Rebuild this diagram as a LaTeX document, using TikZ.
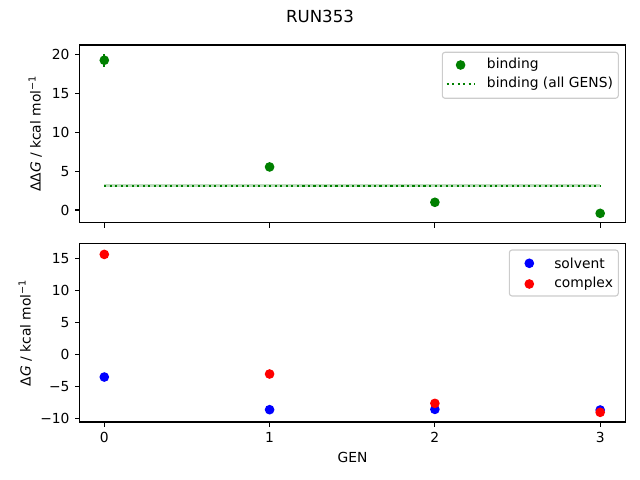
\documentclass[tikz,border=0pt]{standalone}
\usepackage{fontspec}
\setmainfont{DejaVu Sans}
\usepackage{xcolor}
\usetikzlibrary{positioning,calc}
\definecolor{mplgreen}{RGB}{0,128,0}
\definecolor{mplblue}{RGB}{0,0,255}
\definecolor{mplred}{RGB}{255,0,0}
\definecolor{bandgreen}{RGB}{190,222,190}
\begin{document}
\begin{tikzpicture}[
    x=0.01in, y=-0.01in,
    frame/.style={line width=0.8pt},
    tickmark/.style={line width=0.8pt},
    ticklbl/.style={inner sep=0pt, font=\fontsize{10}{12}\selectfont},
    dot/.style={circle, inner sep=0pt, minimum size=7pt, fill=#1},
    legbox/.style={draw=black!20, line width=0.8pt, rounded corners=2pt, fill=white},
    dotline/.style={mplgreen, line width=1.5pt, dash pattern=on 1.5pt off 2.475pt}
]
    \useasboundingbox (0,0) rectangle (640,480);

    % Title
    \node[font=\fontsize{12}{14}\selectfont] (title) at (320,16.7) {RUN353};

    % Top panel
    \begin{scope}[shift={(104.3,210)}, x=1.652in, y=0.0778in]
        \fill[bandgreen] (0,2.92) rectangle (3,3.32);
        \draw[dotline] (0,3.12) -- (3,3.12);
        \draw[mplgreen, line width=1.5pt] (0,18.4) -- (0,20.1);
        \foreach \x/\val in {0/19.24, 1/5.53, 2/0.99, 3/-0.43} {
            \node[dot=mplgreen] (b\x) at (\x,\val) {};
        }
        \foreach \x in {0,1,2,3} {
            \draw[tickmark] (\x,-1.63) -- ++(0,-3.5pt);
        }
        \foreach \y in {0,5,10,15,20} {
            \draw[tickmark] (-0.15,\y) -- ++(-3.5pt,0);
            \node[ticklbl, anchor=east] (ta\y) at ([xshift=-7pt]-0.15,\y) {\y};
        }
    \end{scope}
    \draw[frame] (79.5,45) rectangle (625.5,222.7);
    \node[rotate=90, font=\fontsize{10}{12}\selectfont] (ylabA) at (35.3,133.8)
        {ΔΔ\textit{G} / kcal mol\textsuperscript{−1}};

    % Top legend
    \draw[legbox] (442.3,52.3) rectangle (618.3,98.3);
    \node[dot=mplgreen] (lgA) at (460.6,65) {};
    \node[ticklbl, anchor=west] (lgAt) at (486.7,65) {binding};
    \coordinate (lgBl) at (446.7,84);
    \coordinate (lgBr) at (474.5,84);
    \draw[dotline] (lgBl) -- (lgBr);
    \node[ticklbl, anchor=west] (lgBt) at (486.7,84) {binding (all GENS)};

    % Bottom panel
    \begin{scope}[shift={(104.3,354.3)}, x=1.652in, y=0.064in]
        \foreach \x/\val in {0/-3.55, 1/-8.65, 2/-8.6, 3/-8.7} {
            \node[dot=mplblue] (s\x) at (\x,\val) {};
        }
        \foreach \x/\val in {0/15.6, 1/-3.08, 2/-7.66, 3/-9.06} {
            \node[dot=mplred] (c\x) at (\x,\val) {};
        }
        \foreach \x in {0,1,2,3} {
            \draw[tickmark] (\x,-10.58) -- ++(0,-3.5pt);
            \node[ticklbl, anchor=north] (tx\x) at ([yshift=-7pt]\x,-10.58) {\x};
        }
        \foreach \y/\lbl [count=\i] in {-10/−10, -5/−5, 0/0, 5/5, 10/10, 15/15} {
            \draw[tickmark] (-0.15,\y) -- ++(-3.5pt,0);
            \node[ticklbl, anchor=east] (tb\i) at ([xshift=-7pt]-0.15,\y) {\lbl};
        }
    \end{scope}
    \draw[frame] (79.5,243.3) rectangle (625.5,422);
    \node[rotate=90, font=\fontsize{10}{12}\selectfont] (ylabB) at (25.3,332.7)
        {Δ\textit{G} / kcal mol\textsuperscript{−1}};
    \node[font=\fontsize{10}{12}\selectfont] (xlab) at (352.5,457) {GEN};

    % Bottom legend
    \draw[legbox] (509.3,250) rectangle (618.3,296);
    \node[dot=mplblue] (lgC) at (529.3,263.3) {};
    \node[ticklbl, anchor=west] (lgCt) at (554,263.3) {solvent};
    \node[dot=mplred] (lgD) at (529.3,284) {};
    \node[ticklbl, anchor=west] (lgDt) at (554,284) {complex};
\end{tikzpicture}
\end{document}
